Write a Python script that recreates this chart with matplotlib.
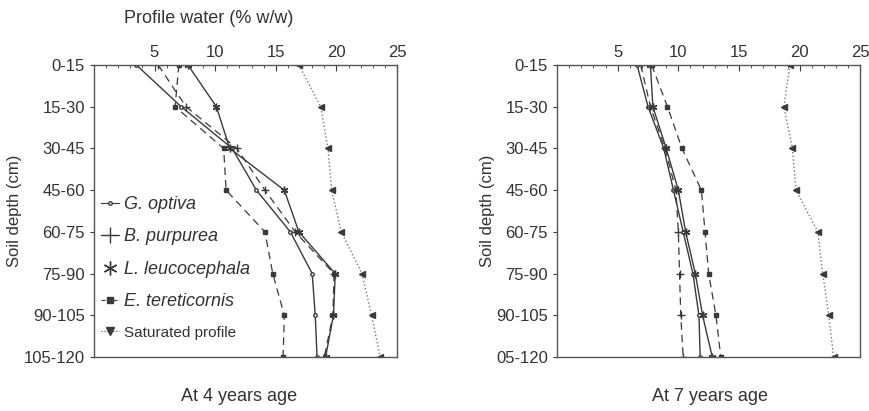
import numpy as np
import matplotlib
matplotlib.use("Agg")
import matplotlib.pyplot as plt
from matplotlib.lines import Line2D

plt.rcParams["font.family"] = ["Liberation Sans", "DejaVu Sans"]
plt.rcParams["font.size"] = 12

# depth classes (cm)
depth_left = ["0-15", "15-30", "30-45", "45-60", "60-75", "75-90", "90-105", "105-120"]
depth_right = ["0-15", "15-30", "30-45", "45-60", "60-75", "75-90", "90-105", "05-120"]

# profile water (% w/w) at 4 years age
g_optiva_4 = [3.5, 7.2, 11.4, 13.4, 16.2, 18.0, 18.25, 18.4]
b_purpurea_4 = [5.3, 7.6, 11.8, 14.1, 16.6, 19.8, 19.7, 19.0]
l_leuco_4 = [7.75, 10.1, 11.2, 15.7, 16.9, 19.9, 19.75, 19.1]
e_teret_4 = [7.0, 6.7, 10.7, 10.9, 14.1, 14.75, 15.7, 15.6]
saturated_4 = [16.9, 18.7, 19.3, 19.6, 20.4, 22.1, 22.9, 23.6]

# profile water (% w/w) at 7 years age
g_optiva_7 = [6.6, 7.5, 8.8, 9.6, 10.4, 11.2, 11.7, 11.8]
b_purpurea_7 = [6.9, 7.7, 8.9, 9.8, 10.0, 10.1, 10.2, 10.4]
l_leuco_7 = [7.7, 7.9, 9.0, 10.0, 10.6, 11.4, 12.0, 12.8]
e_teret_7 = [7.8, 9.1, 10.3, 11.9, 12.2, 12.5, 13.1, 13.5]
saturated_7 = [19.2, 18.7, 19.4, 19.7, 21.5, 21.9, 22.4, 22.8]

x_ticks = [5, 10, 15, 20, 25]
ink = "#3a3a3a"
star = (6, 2, 0)  # asterisk marker


def draw_panel(ax, depths, g, b, l, e, s):
    y = np.arange(len(depths))
    ax.plot(g, y, "-", color=ink, lw=1.0, marker="o", ms=2.5, mfc="white")
    ax.plot(b, y, "--", color=ink, lw=0.9, marker="+", ms=6, dashes=(6, 4))
    ax.plot(l, y, "-", color=ink, lw=1.0, marker=star, ms=5.5)
    ax.plot(e, y, "--", color=ink, lw=0.9, marker="s", ms=3.2, dashes=(6, 4))
    ax.plot(s, y, ":", color="#777777", lw=1.0, marker="<", ms=4.5, mec=ink, mfc=ink)
    ax.set_ylim(len(depths) - 1, 0)
    ax.set_xlim(0, 25)
    ax.set_yticks(y)
    ax.set_yticklabels(depths)
    ax.xaxis.tick_top()
    ax.set_xticks(x_ticks)
    ax.set_xticks(np.arange(0, 26, 1), minor=True)
    ax.tick_params(axis="x", which="both", direction="in", colors=ink, labelcolor="#333333")
    ax.tick_params(axis="x", which="major", length=4)
    ax.tick_params(axis="x", which="minor", length=2.5)
    ax.tick_params(axis="y", direction="out", length=3, colors=ink, labelcolor="#333333")
    ax.set_ylabel("Soil depth (cm)", color="#333333", labelpad=1)
    for sp in ax.spines.values():
        sp.set_color("#555555")
        sp.set_linewidth(1.0)


fig = plt.figure(figsize=(8.69, 4.11), dpi=100)
ax1 = fig.add_axes([0.108, 0.131, 0.349, 0.711])
ax2 = fig.add_axes([0.641, 0.131, 0.349, 0.711])

draw_panel(ax1, depth_left, g_optiva_4, b_purpurea_4, l_leuco_4, e_teret_4, saturated_4)
draw_panel(ax2, depth_right, g_optiva_7, b_purpurea_7, l_leuco_7, e_teret_7, saturated_7)

handles = [
    Line2D([], [], color=ink, lw=0.8, marker="o", ms=2.5, mfc="white"),
    Line2D([], [], color=ink, lw=0.8, marker="+", ms=12),
    Line2D([], [], color=ink, lw=0, marker=star, ms=10),
    Line2D([], [], color=ink, lw=0.8, ls="--", marker="s", ms=4),
    Line2D([], [], color=ink, lw=0.8, ls=":", marker="v", ms=6),
]
names = ["G. optiva", "B. purpurea", "L. leucocephala", "E. tereticornis", "Saturated profile"]
leg = ax1.legend(handles, names, loc="lower left", bbox_to_anchor=(-0.01, 0.025),
                 frameon=False, handlelength=1.1, handletextpad=0.3,
                 labelspacing=0.92, borderaxespad=0.2)
for i, t in enumerate(leg.get_texts()):
    t.set_color("#333333")
    if i < 4:
        t.set_fontstyle("italic")
        t.set_fontsize(13)
    else:
        t.set_fontsize(11)

fig.text(0.24, 0.955, "Profile water (% w/w)", ha="center", va="center", color="#333333", fontsize=13)
fig.text(0.275, 0.035, "At 4 years age", ha="center", va="center", color="#333333", fontsize=13)
fig.text(0.817, 0.035, "At 7 years age", ha="center", va="center", color="#333333", fontsize=13)

fig.savefig("out.png", dpi=100)
